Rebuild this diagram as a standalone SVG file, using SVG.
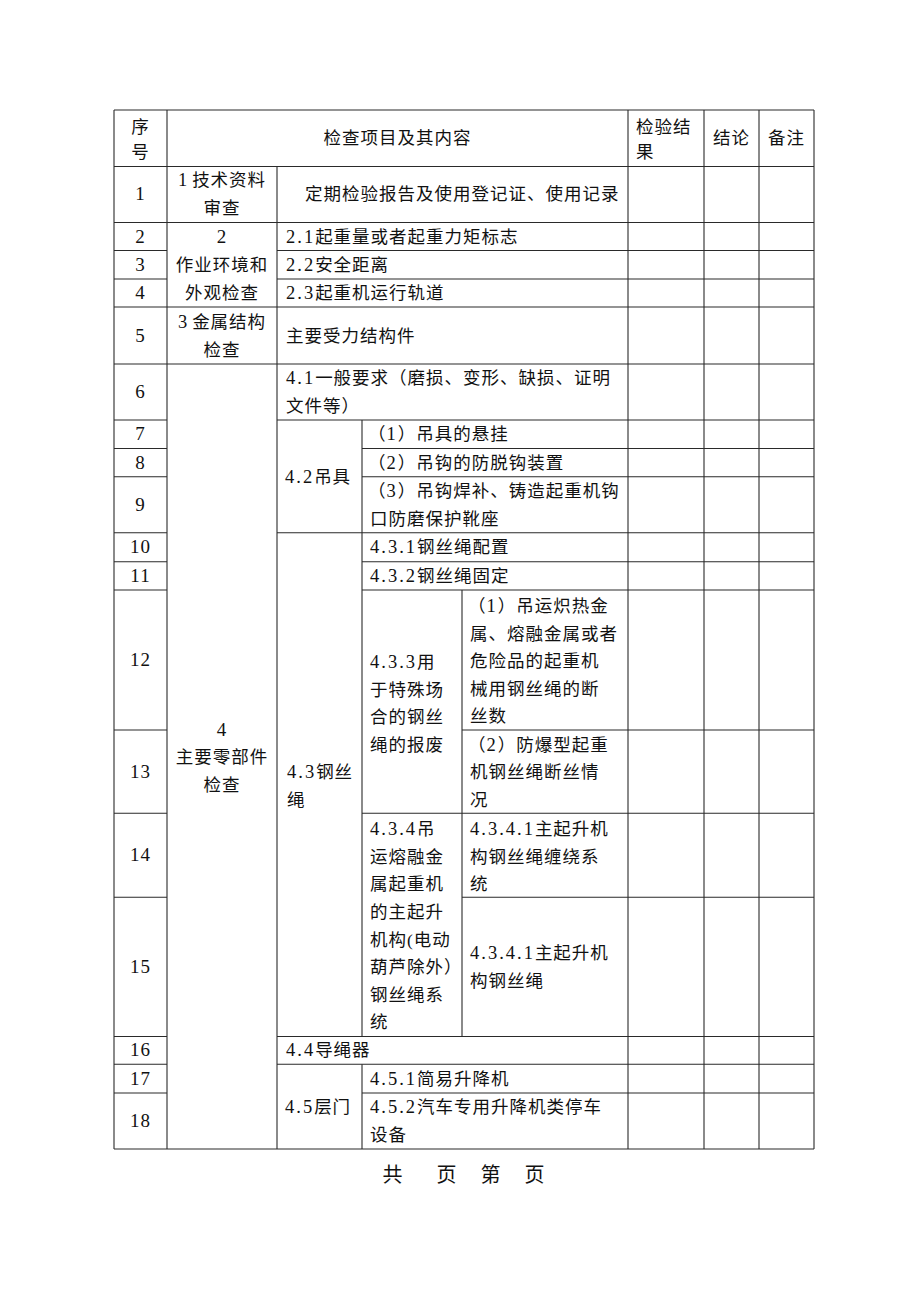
<svg xmlns="http://www.w3.org/2000/svg" width="920" height="1302" viewBox="0 0 920 1302">
<style>
text{font-family:"Liberation Serif","Noto Sans CJK SC",serif;font-size:17.5px;fill:#111;letter-spacing:1px}
.c{text-anchor:middle}
.n{letter-spacing:2px;font-size:18.5px}
.s{letter-spacing:5px;font-size:18.5px}
.r{font-size:19px}
.f{font-size:20px}
line{stroke:#2a2a2a;stroke-width:1.1}
</style>
<rect width="920" height="1302" fill="#fff"/>
<g id="grid">
<line x1="114" y1="110" x2="814" y2="110"/>
<line x1="114" y1="166.5" x2="814" y2="166.5"/>
<line x1="114" y1="222.5" x2="814" y2="222.5"/>
<line x1="114" y1="250.5" x2="167" y2="250.5"/><line x1="277" y1="250.5" x2="814" y2="250.5"/>
<line x1="114" y1="279" x2="167" y2="279"/><line x1="277" y1="279" x2="814" y2="279"/>
<line x1="114" y1="307" x2="814" y2="307"/>
<line x1="114" y1="364" x2="814" y2="364"/>
<line x1="114" y1="420" x2="167" y2="420"/><line x1="277" y1="420" x2="814" y2="420"/>
<line x1="114" y1="448.5" x2="167" y2="448.5"/><line x1="362" y1="448.5" x2="814" y2="448.5"/>
<line x1="114" y1="476.7" x2="167" y2="476.7"/><line x1="362" y1="476.7" x2="814" y2="476.7"/>
<line x1="114" y1="532.7" x2="167" y2="532.7"/><line x1="277" y1="532.7" x2="814" y2="532.7"/>
<line x1="114" y1="561.7" x2="167" y2="561.7"/><line x1="362" y1="561.7" x2="814" y2="561.7"/>
<line x1="114" y1="590" x2="167" y2="590"/><line x1="362" y1="590" x2="814" y2="590"/>
<line x1="114" y1="730" x2="167" y2="730"/><line x1="462" y1="730" x2="814" y2="730"/>
<line x1="114" y1="813.3" x2="167" y2="813.3"/><line x1="362" y1="813.3" x2="814" y2="813.3"/>
<line x1="114" y1="897.3" x2="167" y2="897.3"/><line x1="462" y1="897.3" x2="814" y2="897.3"/>
<line x1="114" y1="1036.5" x2="167" y2="1036.5"/><line x1="277" y1="1036.5" x2="814" y2="1036.5"/>
<line x1="114" y1="1064.3" x2="167" y2="1064.3"/><line x1="277" y1="1064.3" x2="814" y2="1064.3"/>
<line x1="114" y1="1093" x2="167" y2="1093"/><line x1="362" y1="1093" x2="814" y2="1093"/>
<line x1="114" y1="1149" x2="814" y2="1149"/>
<line x1="114" y1="110" x2="114" y2="1149"/>
<line x1="167" y1="110" x2="167" y2="1149"/>
<line x1="277" y1="166.5" x2="277" y2="1149"/>
<line x1="362" y1="420" x2="362" y2="1036.5"/>
<line x1="362" y1="1064.3" x2="362" y2="1149"/>
<line x1="462" y1="590" x2="462" y2="1036.5"/>
<line x1="628" y1="110" x2="628" y2="1149"/>
<line x1="704" y1="110" x2="704" y2="1149"/>
<line x1="759" y1="110" x2="759" y2="1149"/>
<line x1="814" y1="110" x2="814" y2="1149"/>
</g>
<g id="header">
<text class="c" x="140.5" y="133">序</text>
<text class="c" x="140.5" y="158">号</text>
<text class="c" x="397.5" y="144">检查项目及其内容</text>
<text x="636" y="133">检验结</text>
<text x="636" y="158">果</text>
<text class="c" x="731.5" y="144">结论</text>
<text class="c" x="786.5" y="144">备注</text>
</g>
<g id="row-numbers">
<text class="c r" x="140.5" y="200">1</text>
<text class="c r" x="140.5" y="243">2</text>
<text class="c r" x="140.5" y="271">3</text>
<text class="c r" x="140.5" y="299">4</text>
<text class="c r" x="140.5" y="342">5</text>
<text class="c r" x="140.5" y="398">6</text>
<text class="c r" x="140.5" y="440">7</text>
<text class="c r" x="140.5" y="468.5">8</text>
<text class="c r" x="140.5" y="511">9</text>
<text class="c r" x="140.5" y="553">10</text>
<text class="c r" x="140.5" y="582">11</text>
<text class="c r" x="140.5" y="666">12</text>
<text class="c r" x="140.5" y="778">13</text>
<text class="c r" x="140.5" y="861">14</text>
<text class="c r" x="140.5" y="973">15</text>
<text class="c r" x="140.5" y="1056">16</text>
<text class="c r" x="140.5" y="1085">17</text>
<text class="c r" x="140.5" y="1127">18</text>
</g>
<g id="sec1">
<text class="c" x="222" y="186"><tspan class="s">1</tspan>技术资料</text>
<text class="c" x="222" y="214">审查</text>
<text x="305" y="200">定期检验报告及使用登记证、使用记录</text>
</g>
<g id="sec2">
<text class="c r" x="222" y="243">2</text>
<text class="c" x="222" y="271">作业环境和</text>
<text class="c" x="222" y="299">外观检查</text>
<text x="286" y="243"><tspan class="n">2.1</tspan>起重量或者起重力矩标志</text>
<text x="286" y="271"><tspan class="n">2.2</tspan>安全距离</text>
<text x="286" y="299"><tspan class="n">2.3</tspan>起重机运行轨道</text>
</g>
<g id="sec3">
<text class="c" x="222" y="328"><tspan class="s">3</tspan>金属结构</text>
<text class="c" x="222" y="356">检查</text>
<text x="286" y="342">主要受力结构件</text>
</g>
<g id="sec4">
<text class="c r" x="222" y="736">4</text>
<text class="c" x="222" y="763">主要零部件</text>
<text class="c" x="222" y="791">检查</text>
<text x="286" y="384"><tspan class="n">4.1</tspan>一般要求（磨损、变形、缺损、证明</text>
<text x="286" y="412">文件等）</text>
</g>
<g id="sec4-2">
<text x="285" y="483"><tspan class="n">4.2</tspan>吊具</text>
<text x="368" y="440">（<tspan class="n">1</tspan>）吊具的悬挂</text>
<text x="368" y="468.5">（<tspan class="n">2</tspan>）吊钩的防脱钩装置</text>
<text x="368" y="497">（<tspan class="n">3</tspan>）吊钩焊补、铸造起重机钩</text>
<text x="370" y="525">口防磨保护靴座</text>
</g>
<g id="sec4-3">
<text x="287" y="778"><tspan class="n">4.3</tspan>钢丝</text>
<text x="287" y="806">绳</text>
<text x="370" y="553"><tspan class="n">4.3.1</tspan>钢丝绳配置</text>
<text x="370" y="582"><tspan class="n">4.3.2</tspan>钢丝绳固定</text>
<text x="370" y="668"><tspan class="n">4.3.3</tspan>用</text>
<text x="370" y="696">于特殊场</text>
<text x="370" y="723">合的钢丝</text>
<text x="370" y="751">绳的报废</text>
<text x="468" y="612">（<tspan class="n">1</tspan>）吊运炽热金</text>
<text x="470" y="640">属、熔融金属或者</text>
<text x="470" y="667">危险品的起重机</text>
<text x="470" y="695">械用钢丝绳的断</text>
<text x="470" y="722">丝数</text>
<text x="468" y="751">（<tspan class="n">2</tspan>）防爆型起重</text>
<text x="470" y="778">机钢丝绳断丝情</text>
<text x="470" y="806">况</text>
<text x="370" y="835"><tspan class="n">4.3.4</tspan>吊</text>
<text x="370" y="863">运熔融金</text>
<text x="370" y="890">属起重机</text>
<text x="370" y="918">的主起升</text>
<text x="370" y="946">机构(电动</text>
<text x="370" y="973">葫芦除外）</text>
<text x="370" y="1001">钢丝绳系</text>
<text x="370" y="1028">统</text>
<text x="470" y="835"><tspan class="n">4.3.4.1</tspan>主起升机</text>
<text x="470" y="863">构钢丝绳缠绕系</text>
<text x="470" y="890">统</text>
<text x="470" y="959"><tspan class="n">4.3.4.1</tspan>主起升机</text>
<text x="470" y="987">构钢丝绳</text>
</g>
<g id="sec4-4">
<text x="286" y="1056"><tspan class="n">4.4</tspan>导绳器</text>
</g>
<g id="sec4-5">
<text x="285" y="1113"><tspan class="n">4.5</tspan>层门</text>
<text x="370" y="1085"><tspan class="n">4.5.1</tspan>简易升降机</text>
<text x="370" y="1113"><tspan class="n">4.5.2</tspan>汽车专用升降机类停车</text>
<text x="370" y="1141">设备</text>
</g>
<g id="footer">
<text class="c f" x="393" y="1182">共</text>
<text class="c f" x="447" y="1182">页</text>
<text class="c f" x="491" y="1182">第</text>
<text class="c f" x="535" y="1182">页</text>
</g>
</svg>
